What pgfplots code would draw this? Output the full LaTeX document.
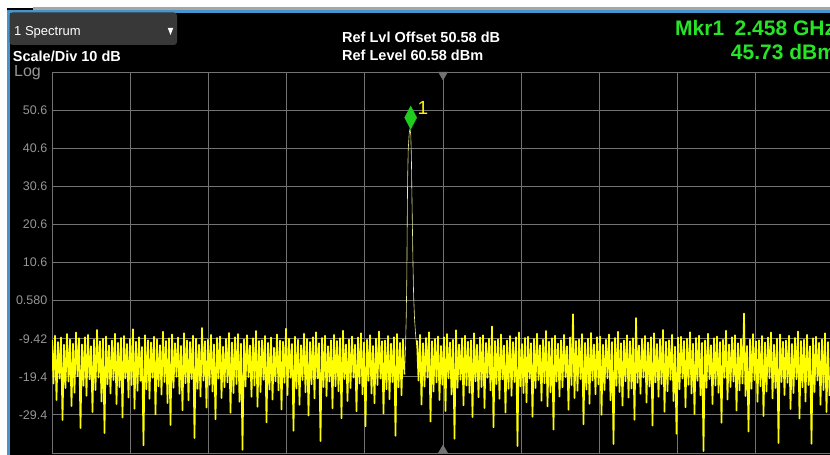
\documentclass[border=0pt]{standalone}
\usepackage{pgfplots}
\pgfplotsset{compat=1.18}
\usepackage{pgfplotstable}
\usepackage{fontspec}
\setmainfont{Liberation Sans}
\definecolor{scrblue}{RGB}{70,150,205}
\definecolor{boxgrey}{RGB}{56,56,56}
\definecolor{gridgrey}{RGB}{115,115,115}
\definecolor{labgrey}{RGB}{150,150,150}
\definecolor{mkrgreen}{RGB}{40,228,40}
\definecolor{diagreen}{RGB}{30,205,30}
\definecolor{tracey}{RGB}{255,255,0}
\definecolor{peakline}{RGB}{235,235,150}

\pgfplotstableread[row sep=\\]{y\\
-9.8\\ -21.2\\ -8.6\\ -25.5\\ -10.3\\ -19.9\\ -9.1\\ -30.8\\ -11.0\\ -22.4\\
-8.2\\ -20.7\\ -9.6\\ -27.1\\ -10.7\\ -23.6\\ -7.8\\ -19.3\\ -9.3\\ -32.9\\
-10.9\\ -21.8\\ -9.0\\ -24.4\\ -8.4\\ -20.1\\ -11.4\\ -28.7\\ -9.7\\ -22.9\\
-7.1\\ -19.6\\ -10.1\\ -25.9\\ -9.4\\ -34.2\\ -8.8\\ -21.4\\ -11.2\\ -23.8\\
-9.9\\ -20.3\\ -8.1\\ -26.6\\ -10.5\\ -22.1\\ -9.2\\ -30.1\\ -8.7\\ -19.8\\
-10.8\\ -24.9\\ -9.5\\ -21.6\\ -6.9\\ -27.8\\ -10.2\\ -23.1\\ -9.0\\ -20.5\\
-11.6\\ -37.4\\ -8.5\\ -22.7\\ -9.8\\ -25.2\\ -10.4\\ -19.7\\ -8.9\\ -29.3\\
-9.6\\ -21.9\\ -11.1\\ -24.1\\ -7.6\\ -20.8\\ -10.0\\ -26.3\\ -9.3\\ -32.1\\
-8.3\\ -22.3\\ -10.6\\ -19.4\\ -9.1\\ -23.9\\ -11.3\\ -28.2\\ -8.0\\ -21.1\\
-9.9\\ -25.6\\ -10.3\\ -20.0\\ -8.6\\ -35.5\\ -9.4\\ -22.6\\ -11.0\\ -24.6\\
-6.6\\ -20.4\\ -10.1\\ -27.5\\ -9.7\\ -21.5\\ -8.4\\ -23.3\\ -10.9\\ -30.6\\
-9.2\\ -19.9\\ -8.8\\ -25.0\\ -11.5\\ -22.2\\ -9.5\\ -20.9\\ -7.9\\ -28.9\\
-10.4\\ -23.7\\ -9.0\\ -21.3\\ -8.2\\ -26.0\\ -10.7\\ -38.6\\ -9.6\\ -22.0\\
-8.5\\ -19.5\\ -11.2\\ -24.7\\ -9.3\\ -21.7\\ -7.4\\ -27.3\\ -10.0\\ -23.4\\
-9.8\\ -20.2\\ -8.7\\ -31.4\\ -10.5\\ -22.8\\ -9.1\\ -25.4\\ -11.8\\ -20.6\\
-8.3\\ -23.0\\ -9.9\\ -28.0\\ -10.2\\ -21.0\\ -6.8\\ -24.2\\ -9.4\\ -19.7\\
-10.8\\ -33.6\\ -8.9\\ -22.5\\ -9.7\\ -26.8\\ -11.1\\ -20.3\\ -8.1\\ -23.5\\
-9.5\\ -29.6\\ -10.3\\ -21.4\\ -9.0\\ -25.1\\ -7.7\\ -19.8\\ -10.6\\ -36.3\\
-9.2\\ -22.1\\ -8.6\\ -24.5\\ -11.4\\ -20.7\\ -9.8\\ -27.7\\ -8.4\\ -21.9\\
-10.0\\ -23.2\\ -9.3\\ -30.3\\ -7.3\\ -20.0\\ -10.9\\ -25.8\\ -9.6\\ -22.4\\
-8.8\\ -19.6\\ -11.0\\ -28.5\\ -9.1\\ -21.2\\ -8.0\\ -24.0\\ -10.4\\ -32.4\\
-9.7\\ -20.5\\ -8.5\\ -23.8\\ -11.3\\ -26.4\\ -9.4\\ -21.6\\ -7.5\\ -19.9\\
-10.1\\ -29.1\\ -9.9\\ -22.7\\ -8.7\\ -25.3\\ -10.7\\ -20.8\\ -9.0\\ -34.9\\
-8.2\\ -22.2\\ -10.5\\ -24.3\\ -9.6\\ -18.8\\
}\leftnoise

\pgfplotstableread[row sep=\\]{y\\
-9.9\\ -20.4\\ -8.4\\ -26.7\\ -10.6\\ -22.0\\ -9.2\\ -19.6\\ -7.7\\ -31.2\\
-10.1\\ -23.3\\ -9.5\\ -20.9\\ -8.8\\ -25.5\\ -11.3\\ -21.5\\ -9.0\\ -28.4\\
-8.2\\ -19.8\\ -10.4\\ -24.1\\ -9.7\\ -35.7\\ -7.2\\ -22.3\\ -10.9\\ -20.2\\
-9.3\\ -26.9\\ -8.6\\ -21.7\\ -10.2\\ -23.6\\ -9.8\\ -30.0\\ -8.0\\ -20.6\\
-11.0\\ -24.8\\ -9.1\\ -22.1\\ -8.5\\ -27.6\\ -10.5\\ -19.7\\ -9.4\\ -23.0\\
-6.2\\ -32.7\\ -10.0\\ -21.3\\ -9.6\\ -25.2\\ -8.3\\ -20.1\\ -11.2\\ -28.8\\
-9.9\\ -22.6\\ -8.7\\ -24.4\\ -10.3\\ -20.8\\ -9.0\\ -37.6\\ -7.8\\ -21.9\\
-10.8\\ -23.7\\ -9.2\\ -26.1\\ -8.9\\ -19.9\\ -10.6\\ -29.9\\ -9.5\\ -22.4\\
-8.1\\ -20.3\\ -11.1\\ -25.7\\ -9.7\\ -21.1\\ -7.4\\ -27.2\\ -10.2\\ -23.5\\
-9.3\\ -33.3\\ -8.6\\ -20.7\\ -10.7\\ -24.6\\ -9.8\\ -22.2\\ -8.4\\ -19.5\\
-11.4\\ -28.1\\ -9.1\\ -21.6\\ -3.0\\ -25.0\\ -10.0\\ -23.1\\ -9.6\\ -20.0\\
-8.2\\ -31.9\\ -10.5\\ -22.8\\ -9.4\\ -26.5\\ -7.9\\ -20.4\\ -10.9\\ -24.0\\
-9.0\\ -21.4\\ -8.8\\ -29.4\\ -11.0\\ -22.9\\ -9.7\\ -19.8\\ -8.3\\ -25.6\\
-10.3\\ -37.1\\ -9.2\\ -21.8\\ -7.6\\ -23.4\\ -10.6\\ -27.0\\ -9.9\\ -20.6\\
-8.5\\ -24.9\\ -10.1\\ -22.5\\ -9.3\\ -30.7\\ -4.0\\ -21.0\\ -11.2\\ -23.9\\
-9.5\\ -19.6\\ -8.7\\ -26.2\\ -10.4\\ -22.0\\ -9.0\\ -32.2\\ -8.0\\ -20.9\\
-10.8\\ -24.7\\ -9.6\\ -21.3\\ -7.1\\ -28.6\\ -10.2\\ -23.2\\ -9.8\\ -20.2\\
-8.4\\ -25.8\\ -11.5\\ -34.4\\ -9.1\\ -22.7\\ -8.9\\ -19.9\\ -10.0\\ -27.4\\
-9.4\\ -21.5\\ -7.7\\ -23.8\\ -10.7\\ -29.2\\ -9.2\\ -20.5\\ -8.6\\ -24.3\\
-10.5\\ -38.9\\ -9.9\\ -22.3\\ -8.1\\ -20.0\\ -11.1\\ -26.6\\ -9.3\\ -21.7\\
-8.8\\ -23.6\\ -10.3\\ -31.5\\ -9.7\\ -19.7\\ -7.3\\ -25.4\\ -10.9\\ -22.1\\
-9.0\\ -20.7\\ -8.5\\ -28.3\\ -10.6\\ -23.0\\ -9.5\\ -21.2\\ -2.8\\ -24.5\\
-11.3\\ -33.8\\ -9.6\\ -22.6\\ -8.2\\ -20.3\\ -10.1\\ -26.0\\ -9.8\\ -21.9\\
-8.7\\ -29.7\\ -10.4\\ -23.3\\ -9.1\\ -19.8\\ -7.8\\ -25.1\\ -11.0\\ -22.4\\
-9.4\\ -36.8\\ -8.3\\ -20.8\\ -10.2\\ -24.2\\ -9.9\\ -21.0\\ -8.6\\ -27.9\\
-10.8\\ -23.7\\ -9.2\\ -20.1\\ -7.5\\ -30.4\\ -10.0\\ -22.2\\ -9.7\\ -25.9\\
-8.4\\ -21.6\\ -11.4\\ -37.0\\ -9.3\\ -23.4\\ -8.9\\ -20.4\\
-10.5\\ -26.8\\ -9.6\\ -22.9\\ -8.0\\ -28.7\\ -10.3\\ -24.4\\
}\rightnoise

\begin{document}
\begin{tikzpicture}
\fill[black] (0,0) rectangle (830pt,455pt);
\fill[white] (0,0) rectangle (7pt,455pt);
\fill[white] (0,447pt) rectangle (830pt,455pt);
\fill[gray!70] (33pt,445pt) rectangle (830pt,447.5pt);
\fill[scrblue] (7pt,442pt) rectangle (830pt,445pt);
\fill[scrblue] (7pt,0) rectangle (9.5pt,445pt);
\fill[boxgrey,rounded corners=3pt] (9.5pt,410pt) rectangle (177pt,442.5pt);
\fill[white] (167.8pt,427pt) -- (173.2pt,427pt) -- (170.5pt,420pt) -- cycle;
\begin{axis}[
  at={(52pt,2pt)}, anchor=south west,
  width=778pt, height=381pt, scale only axis,
  xmin=0, xmax=778, ymin=-39.42, ymax=60.58,
  axis line style={draw=none},
  xtick={0,78.2,156.4,234.6,312.8,391,469.2,547.4,625.6,703.8},
  xticklabels={},
  ytick={-39.42,-29.42,-19.42,-9.42,0.58,10.58,20.58,30.58,40.58,50.58,60.58},
  yticklabels={,-29.4,-19.4,-9.42,0.580,10.6,20.6,30.6,40.6,50.6,},
  grid=major,
  major grid style={gridgrey, line width=0.8pt},
  major tick length=0pt,
  yticklabel style={font=\fontsize{12.5}{14}\selectfont, text=labgrey, anchor=east, inner sep=0pt, xshift=-4.5pt},
]
\addplot[tracey, line width=1.6pt, line join=round] table[x expr=\coordindex*1.5, y=y] {\leftnoise};
\addplot[peakline, line width=0.6pt, line join=round] coordinates {
(352.5,-18.8) (353.5,-12) (354.2,-4) (354.8,6) (355.2,20) (355.6,32) (356.2,40)
(357.2,44.5) (358.0,45.73) (358.8,44) (359.4,38) (359.8,30) (360.4,20)
(361.0,10) (361.6,2) (362.5,-4) (363.5,-8) (364.5,-11) (365,-9.9)};
\addplot[tracey, line width=1.6pt, line join=round] table[x expr=365+\coordindex*1.5, y=y] {\rightnoise};
\addplot[only marks, mark=diamond*, mark size=11.5pt, color=diagreen, mark options={xscale=0.7}] coordinates {(358.7,48.6)};
\addplot[only marks, mark=triangle*, mark size=5.3pt, color=gridgrey, mark options={rotate=180}] coordinates {(391,59.88)};
\addplot[only marks, mark=triangle*, mark size=5.3pt, color=gridgrey] coordinates {(391,-38.71)};
\node[text=yellow, font=\fontsize{19}{20}\selectfont, inner sep=0pt, anchor=center] at (axis cs:371,51.1) {1};
\end{axis}
\node[anchor=base west, inner sep=0pt, text=white, font=\fontsize{13}{15}\selectfont] at (14pt,419pt) {1 Spectrum};
\node[anchor=base west, inner sep=0pt, text=white, font=\bfseries\fontsize{14.5}{16}\selectfont] at (12.7pt,393pt) {Scale/Div 10 dB};
\node[anchor=base west, inner sep=0pt, text=labgrey, font=\fontsize{16}{18}\selectfont] at (14pt,378.5pt) {Log};
\node[anchor=base west, inner sep=0pt, text=white, font=\bfseries\fontsize{14.5}{16}\selectfont] at (342pt,412pt) {Ref Lvl Offset 50.58 dB};
\node[anchor=base west, inner sep=0pt, text=white, font=\bfseries\fontsize{14.5}{16}\selectfont] at (342pt,394pt) {Ref Level 60.58 dBm};
\node[anchor=base west, inner sep=0pt, text=mkrgreen, font=\bfseries\fontsize{21}{23}\selectfont] at (675pt,419pt) {Mkr1\hspace{0.5em}2.458 GHz};
\node[anchor=base west, inner sep=0pt, text=mkrgreen, font=\bfseries\fontsize{21}{23}\selectfont] at (730.7pt,395pt) {45.73 dBm};
\pgfresetboundingbox
\useasboundingbox (0,0) rectangle (830pt,455pt);
\end{tikzpicture}
\end{document}
